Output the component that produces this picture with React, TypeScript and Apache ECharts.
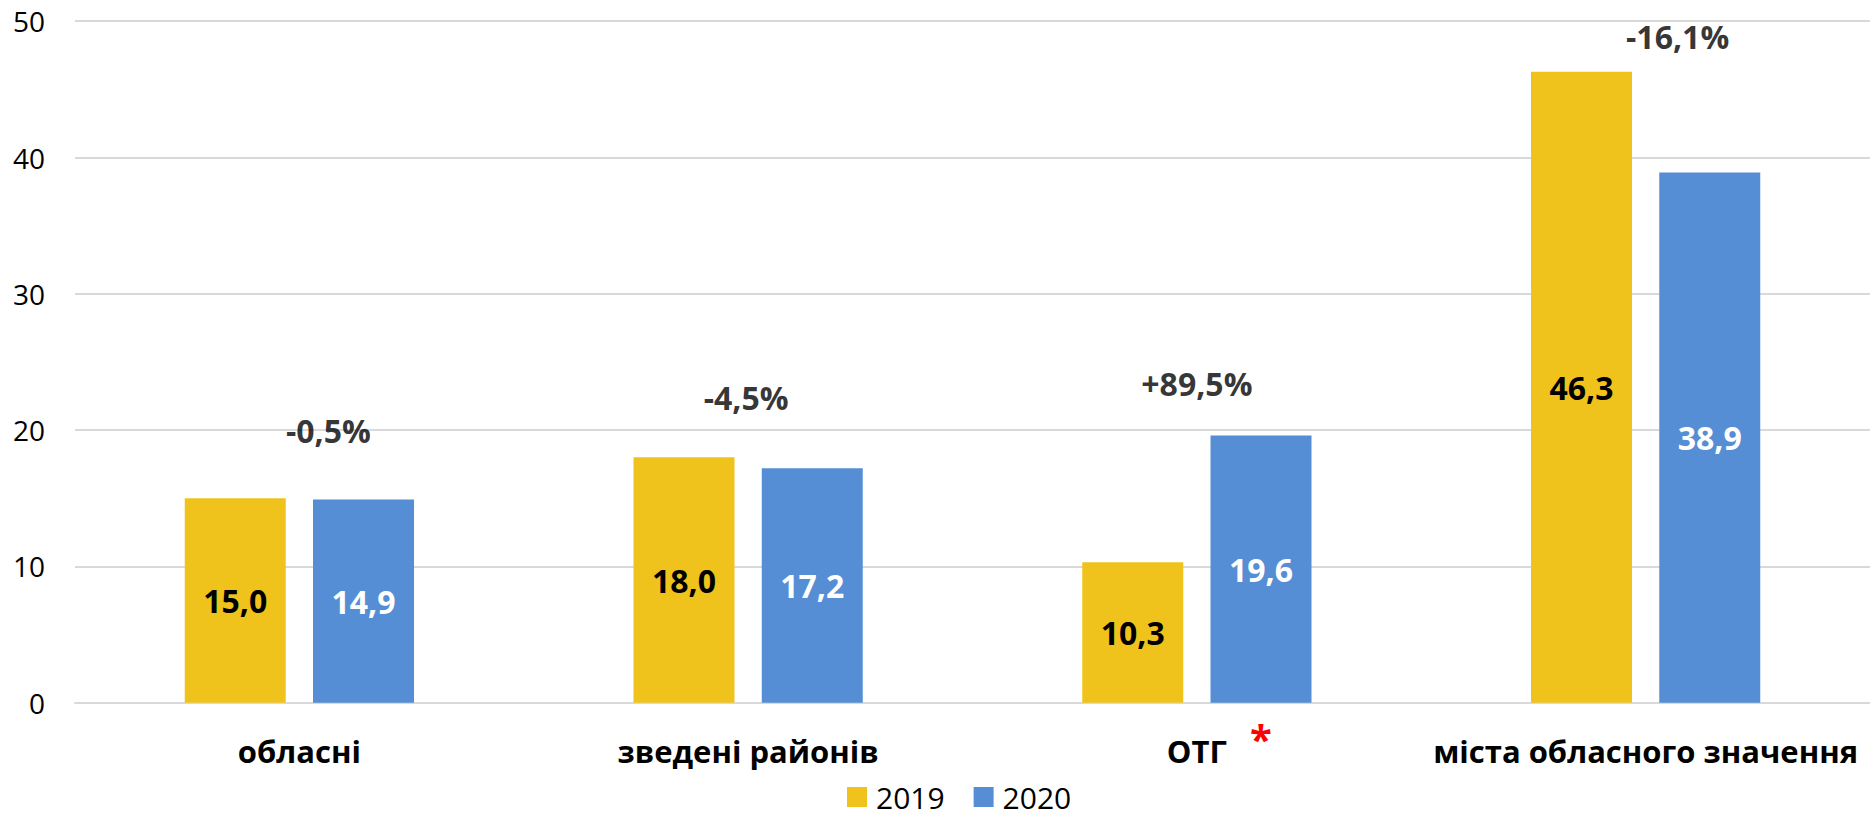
import React, { useEffect, useRef } from "react";
import * as echarts from "echarts";

const categories = ["обласні", "зведені районів", "ОТГ", "міста обласного значення"];
const values2019 = [15.0, 18.0, 10.3, 46.3];
const values2020 = [14.9, 17.2, 19.6, 38.9];
const changeLabels = ["-0,5%", "-4,5%", "+89,5%", "-16,1%"];
// anchor heights (axis units) for the change annotations
const changeAnchors = [20.0, 22.4, 23.45, 48.85];
const changeOffsetsX = [29, -2, 0, 32];
const yTicks = { min: 0, max: 50, interval: 10 };

const FONT = "'Open Sans', 'Noto Sans', sans-serif";
const YELLOW = "#EFC31B";
const BLUE = "#558ED5";

const fmt = (v: number) => v.toFixed(1).replace(".", ",");

export default function App() {
  const ref = useRef<HTMLDivElement>(null);
  useEffect(() => {
    if (!ref.current) return;
    const chart = echarts.init(ref.current, undefined, { renderer: "svg" });
    chart.setOption({
      animation: false,
      backgroundColor: "#ffffff",
      textStyle: { fontFamily: FONT },
      grid: { left: 75, top: 21.2, width: 1802, height: 681.5, containLabel: false },
      legend: {
        data: ["2019", "2020"],
        left: 847,
        top: 782,
        padding: 0,
        itemWidth: 20,
        itemHeight: 20,
        itemGap: 29,
        icon: "rect",
        textStyle: {
          fontFamily: FONT,
          fontSize: 30,
          color: "#000",
          padding: [0, 0, 0, 4],
        },
      },
      xAxis: {
        type: "category",
        data: categories,
        axisLine: { lineStyle: { color: "#d9d9d9", width: 2 } },
        axisTick: { show: false },
        axisLabel: {
          interval: 0,
          margin: 33,
          fontFamily: FONT,
          fontSize: 31,
          fontWeight: "bold",
          color: "#000",
        },
      },
      yAxis: {
        type: "value",
        min: yTicks.min,
        max: yTicks.max,
        interval: yTicks.interval,
        axisLine: { show: false },
        axisTick: { show: false },
        splitLine: { lineStyle: { color: "#d9d9d9", width: 2 } },
        axisLabel: { margin: 30, fontFamily: FONT, fontSize: 28, color: "#000" },
      },
      series: [
        {
          name: "2019",
          type: "bar",
          data: values2019,
          barWidth: 101,
          barGap: "27%",
          itemStyle: { color: YELLOW },
          label: {
            show: true,
            position: "inside",
            formatter: (p: any) => fmt(p.value),
            fontFamily: FONT,
            fontSize: 32,
            fontWeight: "bold",
            color: "#000",
          },
        },
        {
          name: "2020",
          type: "bar",
          data: values2020,
          barWidth: 101,
          barGap: "27%",
          itemStyle: { color: BLUE },
          label: {
            show: true,
            position: "inside",
            formatter: (p: any) => fmt(p.value),
            fontFamily: FONT,
            fontSize: 32,
            fontWeight: "bold",
            color: "#fff",
          },
        },
        {
          name: "change",
          type: "scatter",
          symbolSize: 1,
          itemStyle: { color: "rgba(0,0,0,0)" },
          data: changeAnchors.map((v, i) => ({
            value: [i, v],
            label: { offset: [changeOffsetsX[i], 0] },
          })),
          label: {
            show: true,
            position: "inside",
            formatter: (p: any) => changeLabels[p.dataIndex],
            fontFamily: FONT,
            fontSize: 32,
            fontWeight: "bold",
            color: "#000",
          },
          silent: true,
        },
      ],
      graphic: [
        {
          type: "text",
          x: 1261,
          y: 738,
          style: {
            text: "*",
            fill: "#FF0000",
            font: "bold 40px 'Open Sans', sans-serif",
            align: "center",
            verticalAlign: "middle",
          },
        },
      ],
    });
    return () => chart.dispose();
  }, []);
  return (
    <div
      ref={ref}
      style={{ position: "absolute", left: 0, top: 0, width: 1870, height: 820 }}
    />
  );
}
